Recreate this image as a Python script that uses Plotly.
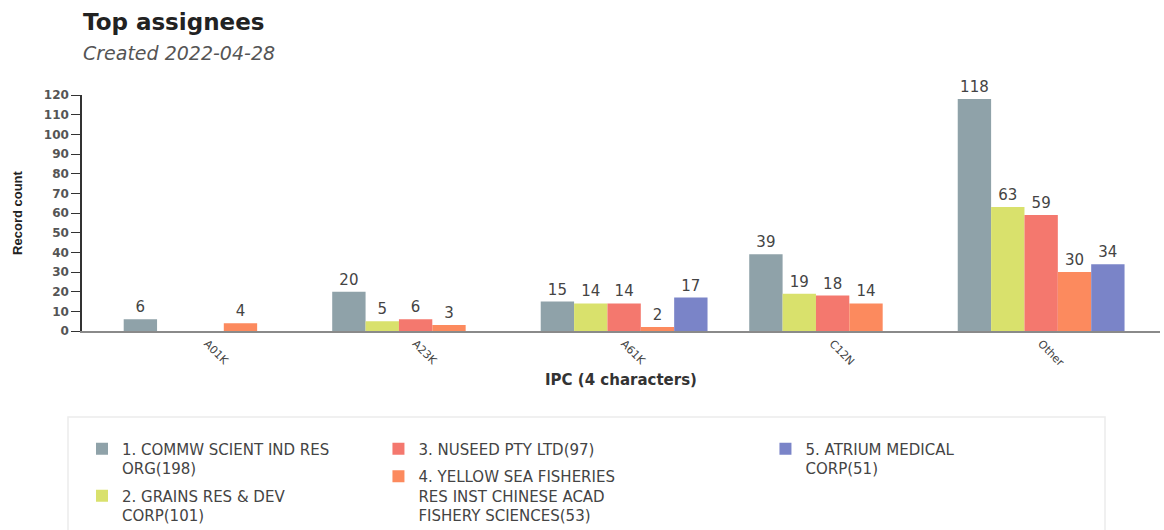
import plotly.graph_objects as go

# IPC classes on the category axis
categories = ["A01K", "A23K", "A61K", "C12N", "Other"]

# Record counts per assignee (None = no records in that class)
commw = [6, 20, 15, 39, 118]
grains = [None, 5, 14, 19, 63]
nuseed = [None, 6, 14, 18, 59]
yellow_sea = [4, 3, 2, 14, 30]
atrium = [None, None, 17, None, 34]

series_names = [
    "1. COMMW SCIENT IND RES<br>ORG(198)",
    "2. GRAINS RES & DEV<br>CORP(101)",
    "3. NUSEED PTY LTD(97)",
    "4. YELLOW SEA FISHERIES<br>RES INST CHINESE ACAD<br>FISHERY SCIENCES(53)",
    "5. ATRIUM MEDICAL<br>CORP(51)",
]
series_values = [commw, grains, nuseed, yellow_sea, atrium]
series_colors = ["#8fa2a9", "#d9e16c", "#f4786e", "#fc8a5e", "#7a84c8"]
series_legends = ["legend", "legend", "legend2", "legend2", "legend3"]

SANS = "DejaVu Sans, Verdana, sans-serif"

fig = go.Figure()
for i, (name, vals, color, lg) in enumerate(zip(series_names, series_values, series_colors, series_legends)):
    fig.add_trace(go.Bar(
        x=categories,
        y=vals,
        name=name,
        legendgroup=f"g{i}",
        marker=dict(color=color, line=dict(width=0)),
        text=vals,
        texttemplate="%{y}",
        textposition="outside",
        textfont=dict(family=SANS, size=15, color="#444444"),
        cliponaxis=False,
        legend=lg,
    ))

# Legends sit in the lower band of the page, measured against the whole container
LEGEND_TOP = (530 - 432.5) / 530
legend_common = dict(
    orientation="v",
    xanchor="left",
    yanchor="top",
    yref="container",
    y=LEGEND_TOP,
    valign="top",
    font=dict(family=SANS, size=15, color="#444444"),
    bgcolor="rgba(0,0,0,0)",
    tracegroupgap=5,
    itemclick=False,
)

fig.update_layout(
    width=1164,
    height=530,
    margin=dict(l=82, r=4, t=95, b=199, autoexpand=False),
    paper_bgcolor="white",
    plot_bgcolor="white",
    barmode="group",
    bargap=0.2,
    bargroupgap=0,
    showlegend=True,
    legend=dict(x=0.0, **legend_common),
    legend2=dict(x=0.275, **legend_common),
    legend3=dict(x=0.634, **legend_common),
    xaxis=dict(
        type="category",
        range=[-0.6, 4.57],
        showline=True,
        linecolor="#8a8a8a",
        linewidth=2,
        ticks="",
        tickangle=45,
        tickfont=dict(family=SANS, size=11, color="#444444"),
        title=dict(
            text="<b>IPC (4 characters)</b>",
            font=dict(family=SANS, size=15, color="#333333"),
            standoff=6,
        ),
        showgrid=False,
        zeroline=False,
    ),
    yaxis=dict(
        range=[0, 120],
        dtick=10,
        showline=True,
        linecolor="#333333",
        linewidth=1.5,
        ticks="outside",
        ticklen=9,
        tickcolor="#333333",
        tickfont=dict(family=SANS, size=12, color="#555555", weight="bold"),
        title=dict(
            text="<b>Record count</b>",
            font=dict(family="Liberation Sans Narrow, Arial Narrow, Liberation Sans, sans-serif", size=13, color="#222222"),
            standoff=18,
        ),
        showgrid=False,
        zeroline=False,
    ),
)

# Title and subtitle positioned in paper coordinates derived from pixel rows
plot_h = 530 - 95 - 199
def py(pixel_y):
    return (530 - 199 - pixel_y) / plot_h

fig.add_annotation(
    text="<b>Top assignees</b>", xref="paper", yref="paper",
    x=0.0, y=py(22), xanchor="left", yanchor="middle", showarrow=False, xshift=-1,
    font=dict(family=SANS, size=23, color="#222222"),
)
fig.add_annotation(
    text="<i>Created 2022-04-28</i>", xref="paper", yref="paper",
    x=0.0, y=py(53), xanchor="left", yanchor="middle", showarrow=False, xshift=-1,
    font=dict(family=SANS, size=19, color="#555555"),
)

# Frame around the legend area
fig.add_shape(
    type="rect", xref="paper", yref="paper",
    x0=(68 - 82) / 1078, x1=(1105 - 82) / 1078,
    y0=py(417), y1=py(545),
    line=dict(color="#ececec", width=1.5),
    fillcolor="rgba(0,0,0,0)",
    layer="below",
)

fig.write_html("out.html")
